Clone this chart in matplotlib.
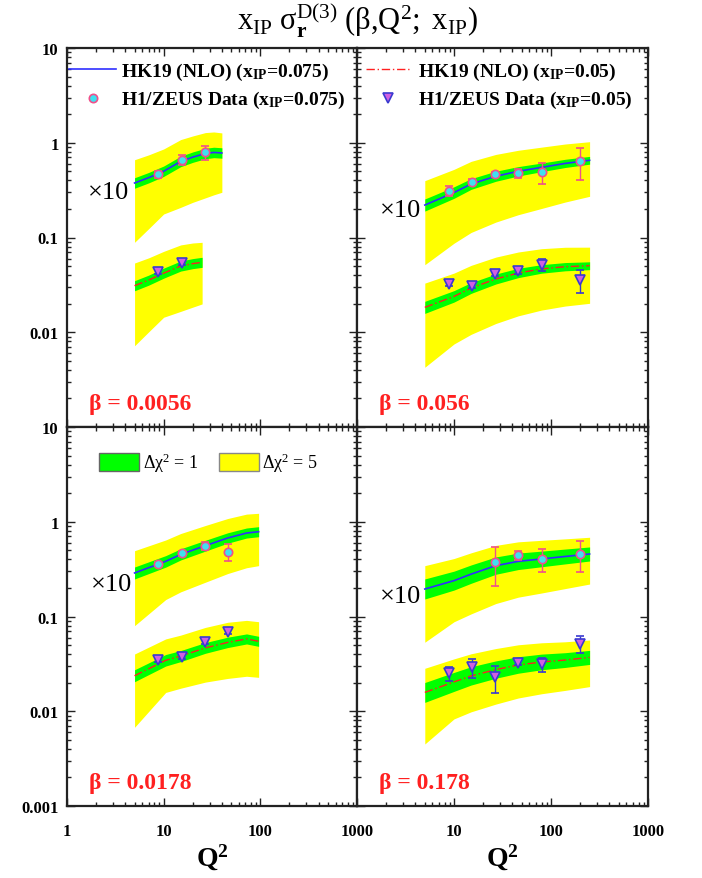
import matplotlib
matplotlib.use("Agg")
import matplotlib.pyplot as plt
from matplotlib.lines import Line2D
from matplotlib.patches import Patch

plt.rcParams['font.family'] = ['Liberation Serif', 'DejaVu Serif']
plt.rcParams['mathtext.fontset'] = 'custom'
plt.rcParams['mathtext.rm'] = 'Liberation Serif'
plt.rcParams['mathtext.it'] = 'Liberation Serif:italic'
plt.rcParams['mathtext.bf'] = 'Liberation Serif:bold'

# ---------------- data ----------------
SCALE_A = 10          # x_IP = 0.075 series is drawn multiplied by 10
BETAS = ['0.0056', '0.056', '0.0178', '0.178']

# beta = 0.0056
q_tl_a = [5, 7, 10, 15, 20, 27, 33, 40]
cen_tl_a = [0.0376, 0.0428, 0.050, 0.0635, 0.0705, 0.077, 0.079, 0.078]
ghi_tl_a = [0.0427, 0.0486, 0.0568, 0.0721, 0.080, 0.0874, 0.0897, 0.0885]
glo_tl_a = [0.0331, 0.0377, 0.0441, 0.0559, 0.0621, 0.0678, 0.0696, 0.0687]
yhi_tl_a = [0.0662, 0.0745, 0.086, 0.108, 0.118, 0.128, 0.130, 0.127]
ylo_tl_a = [0.0089, 0.0124, 0.0177, 0.0208, 0.0235, 0.0262, 0.0282, 0.030]
dq_tl_a = [8.8, 15.3, 26.5]
dv_tl_a = [0.0468, 0.0662, 0.079]
de_tl_a = [0.004, 0.008, 0.014]

q_tl_b = [5, 7, 10, 15, 20, 25]
cen_tl_b = [0.031, 0.0355, 0.042, 0.050, 0.053, 0.0547]
ghi_tl_b = [0.035, 0.0401, 0.0475, 0.0565, 0.0599, 0.0618]
glo_tl_b = [0.0274, 0.0314, 0.0372, 0.0442, 0.0469, 0.0484]
yhi_tl_b = [0.0538, 0.061, 0.0714, 0.0835, 0.0875, 0.089]
ylo_tl_b = [0.0072, 0.0101, 0.0144, 0.0166, 0.0184, 0.0199]
dq_tl_b = [8.8, 15.3]
dv_tl_b = [0.0435, 0.0538]
de_tl_b = [0.002, 0.003]

# beta = 0.056
q_tr_a = [5, 10, 15, 27, 46, 80, 140, 250]
cen_tr_a = [0.022, 0.0298, 0.0367, 0.0443, 0.050, 0.055, 0.0605, 0.0653]
ghi_tr_a = [0.0255, 0.0343, 0.0418, 0.0501, 0.056, 0.0611, 0.0669, 0.0718]
glo_tr_a = [0.0190, 0.0259, 0.0322, 0.0392, 0.0446, 0.0495, 0.0548, 0.0594]
yhi_tr_a = [0.0398, 0.0524, 0.0636, 0.0753, 0.0833, 0.0899, 0.097, 0.1026]
ylo_tr_a = [0.00516, 0.0087, 0.0113, 0.01454, 0.0174, 0.02025, 0.02366, 0.0272]
dq_tr_a = [8.9, 15.3, 26.5, 46, 80, 200]
dv_tr_a = [0.0312, 0.0388, 0.0467, 0.0476, 0.049, 0.064]
de_tr_a = [0.004, 0.0028, 0.003, 0.005, 0.0125, 0.024]

q_tr_b = [5, 10, 15, 27, 46, 80, 140, 250]
cen_tr_b = [0.0183, 0.0239, 0.0293, 0.0365, 0.0422, 0.0466, 0.0492, 0.0504]
ghi_tr_b = [0.0212, 0.0275, 0.0334, 0.0412, 0.0473, 0.0517, 0.0544, 0.0554]
glo_tr_b = [0.0158, 0.0208, 0.0257, 0.0323, 0.0377, 0.0420, 0.0445, 0.0458]
yhi_tr_b = [0.033, 0.0421, 0.0508, 0.0621, 0.0703, 0.0762, 0.0789, 0.0791]
ylo_tr_b = [0.00427, 0.00752, 0.0095, 0.01237, 0.0149, 0.01715, 0.0189, 0.0202]
dq_tr_b = [8.9, 15.3, 26.5, 46, 80, 200]
dv_tr_b = [0.0323, 0.031, 0.0412, 0.044, 0.0517, 0.0356]
de_tr_b = [0.0015, 0.0015, 0.0018, 0.003, 0.0078, 0.0098]

# beta = 0.0178
q_bl_a = [5, 10.5, 15, 27, 46, 72, 96]
cen_bl_a = [0.0288, 0.0382, 0.0452, 0.0559, 0.0674, 0.076, 0.0785]
ghi_bl_a = [0.0333, 0.0439, 0.0518, 0.0637, 0.0765, 0.0859, 0.0887]
glo_bl_a = [0.0249, 0.0332, 0.0395, 0.0490, 0.0594, 0.0673, 0.0695]
yhi_bl_a = [0.0495, 0.0642, 0.0751, 0.0913, 0.1082, 0.1204, 0.1228]
ylo_bl_a = [0.0080, 0.0151, 0.0182, 0.0230, 0.0284, 0.0327, 0.0344]
dq_bl_a = [8.8, 15.3, 26.5, 46]
dv_bl_a = [0.0358, 0.0464, 0.0558, 0.0483]
de_bl_a = [0.002, 0.0025, 0.005, 0.0098]

q_bl_b = [5, 10.5, 15, 27, 46, 72, 96]
cen_bl_b = [0.0237, 0.0345, 0.0382, 0.0466, 0.0533, 0.058, 0.0547]
ghi_bl_b = [0.0274, 0.0397, 0.0437, 0.0531, 0.0605, 0.0655, 0.0618]
glo_bl_b = [0.0205, 0.0300, 0.0334, 0.0409, 0.0470, 0.0513, 0.0484]
yhi_bl_b = [0.0402, 0.058, 0.0636, 0.0767, 0.0869, 0.091, 0.0881]
ylo_bl_b = [0.00677, 0.0158, 0.0175, 0.0203, 0.0222, 0.0234, 0.0228]
dq_bl_b = [8.8, 15.3, 26.5, 46]
dv_bl_b = [0.0348, 0.0377, 0.0542, 0.0692]
de_bl_b = [0.0017, 0.0018, 0.0027, 0.0035]

# beta = 0.178
q_br_a = [5, 10, 15, 27, 46, 80, 140, 250]
cen_br_a = [0.0195, 0.0239, 0.028, 0.0344, 0.0382, 0.0405, 0.043, 0.0457]
ghi_br_a = [0.0249, 0.0301, 0.035, 0.0425, 0.0467, 0.049, 0.0515, 0.0542]
glo_br_a = [0.0153, 0.0190, 0.0224, 0.0279, 0.0313, 0.0335, 0.0359, 0.0385]
yhi_br_a = [0.0344, 0.0409, 0.047, 0.0563, 0.0614, 0.0637, 0.066, 0.0686]
ylo_br_a = [0.00535, 0.0088, 0.01065, 0.0137, 0.016, 0.0177, 0.0197, 0.022]
dq_br_a = [26.5, 46, 80, 200]
dv_br_a = [0.0373, 0.0446, 0.0404, 0.046]
de_br_a = [0.0165, 0.005, 0.011, 0.0165]

q_br_b = [5, 10, 15, 27, 46, 80, 140, 250]
cen_br_b = [0.0158, 0.0204, 0.0236, 0.0275, 0.0308, 0.0331, 0.0347, 0.037]
ghi_br_b = [0.0201, 0.0257, 0.0295, 0.034, 0.0376, 0.0401, 0.0415, 0.0439]
glo_br_b = [0.0124, 0.0162, 0.0189, 0.0223, 0.0252, 0.0274, 0.029, 0.0312]
yhi_br_b = [0.0284, 0.0357, 0.0404, 0.0459, 0.0503, 0.0528, 0.0541, 0.0565]
ylo_br_b = [0.00451, 0.0083, 0.00986, 0.0119, 0.0138, 0.0153, 0.0166, 0.0182]
dq_br_b = [8.9, 15.3, 26.5, 46, 80, 200]
dv_br_b = [0.0251, 0.0291, 0.0228, 0.0323, 0.0315, 0.0513]
de_br_b = [0.0042, 0.0067, 0.0071, 0.0015, 0.0053, 0.0105]

YTICKS = [0.001, 0.01, 0.1, 1, 10]
XTICKS = [1, 10, 100, 1000]

# ---------------- styles ----------------
YELLOW = '#ffff00'
GREEN = '#00ff00'
BLUE = '#2f2fff'
RED = '#ff2020'
CYAN = '#40e0f0'
PINK = '#f0508a'
VIOLET = '#d060e0'
DBLUE = '#3a3ad0'
AXCOL = '#222222'
DASHDOT = (0, (6, 2, 1, 2))

W, H = 702, 879
fig = plt.figure(figsize=(W / 100, H / 100), dpi=100)

L, R, T, B = 67, 648, 49, 807
MX, MY = 357, 428


def frame(x0, y0, x1, y1):
    return [x0 / W, 1 - y1 / H, (x1 - x0) / W, (y1 - y0) / H]


axes = {
    'tl': fig.add_axes(frame(L, T, MX, MY)),
    'tr': fig.add_axes(frame(MX, T, R, MY)),
    'bl': fig.add_axes(frame(L, MY, MX, B)),
    'br': fig.add_axes(frame(MX, MY, R, B)),
}


def draw_series(ax, q, cen, glo, ghi, ylo, yhi, dq, dv, de, scale, kind):
    s = lambda v: [scale * x for x in v]
    ax.fill_between(q, s(ylo), s(yhi), color=YELLOW, lw=0, zorder=1)
    ax.fill_between(q, s(glo), s(ghi), color=GREEN, lw=0, zorder=2)
    if kind == 'a':
        ax.plot(q, s(cen), color=BLUE, lw=1.2, zorder=3)
        ax.errorbar(dq, s(dv), yerr=s(de), fmt='o', ms=6, mfc=CYAN, mec=PINK,
                    mew=1.2, ecolor=PINK, elinewidth=1, capsize=3, capthick=1,
                    zorder=4)
    else:
        ax.plot(q, s(cen), color=RED, lw=1.0, ls=DASHDOT, zorder=3)
        ax.errorbar(dq, s(dv), yerr=s(de), fmt='v', ms=7, mfc=VIOLET, mec=DBLUE,
                    mew=1.2, ecolor=DBLUE, elinewidth=1, capsize=3, capthick=1,
                    zorder=4)


panels = [
    ('tl', (q_tl_a, cen_tl_a, glo_tl_a, ghi_tl_a, ylo_tl_a, yhi_tl_a, dq_tl_a, dv_tl_a, de_tl_a),
           (q_tl_b, cen_tl_b, glo_tl_b, ghi_tl_b, ylo_tl_b, yhi_tl_b, dq_tl_b, dv_tl_b, de_tl_b)),
    ('tr', (q_tr_a, cen_tr_a, glo_tr_a, ghi_tr_a, ylo_tr_a, yhi_tr_a, dq_tr_a, dv_tr_a, de_tr_a),
           (q_tr_b, cen_tr_b, glo_tr_b, ghi_tr_b, ylo_tr_b, yhi_tr_b, dq_tr_b, dv_tr_b, de_tr_b)),
    ('bl', (q_bl_a, cen_bl_a, glo_bl_a, ghi_bl_a, ylo_bl_a, yhi_bl_a, dq_bl_a, dv_bl_a, de_bl_a),
           (q_bl_b, cen_bl_b, glo_bl_b, ghi_bl_b, ylo_bl_b, yhi_bl_b, dq_bl_b, dv_bl_b, de_bl_b)),
    ('br', (q_br_a, cen_br_a, glo_br_a, ghi_br_a, ylo_br_a, yhi_br_a, dq_br_a, dv_br_a, de_br_a),
           (q_br_b, cen_br_b, glo_br_b, ghi_br_b, ylo_br_b, yhi_br_b, dq_br_b, dv_br_b, de_br_b)),
]

for (key, sa, sb), beta in zip(panels, BETAS):
    ax = axes[key]
    draw_series(ax, *sa, SCALE_A, 'a')
    draw_series(ax, *sb, 1, 'b')
    ax.set_xscale('log')
    ax.set_yscale('log')
    ax.set_xlim(1, 1000)
    ax.set_ylim(0.001, 10)
    ax.tick_params(which='both', direction='in', top=True, right=True,
                   color=AXCOL, width=1)
    ax.tick_params(which='major', length=6)
    ax.tick_params(which='minor', length=3)
    for sp in ax.spines.values():
        sp.set_linewidth(1.6)
        sp.set_color(AXCOL)
    ax.set_yticks(YTICKS)
    ax.set_xticks(XTICKS)
    if key == 'tl':
        ax.set_yticklabels(['', '0.01', '0.1', '1', '10'])
    elif key == 'bl':
        ax.set_yticklabels(['0.001', '0.01', '0.1', '1', '10'])
    else:
        ax.set_yticklabels([])
    if key == 'bl':
        ax.set_xticklabels(['1', '10', '100', '1000'])
    elif key == 'br':
        ax.set_xticklabels(['', '10', '100', '1000'])
    else:
        ax.set_xticklabels([])
    for lab in ax.get_xticklabels() + ax.get_yticklabels():
        lab.set_fontweight('bold')
        lab.set_fontsize(12)
    ax.tick_params(axis='y', pad=6)
    ax.tick_params(axis='x', pad=12)
    ax.text(0.075, 0.062, 'β = ' + beta, transform=ax.transAxes, color=RED,
            fontsize=17, fontweight='bold', va='center', ha='left')

# "x10" markers for the scaled series
x10_pos = {'tl': (0.072, 0.62), 'tr': (0.077, 0.573), 'bl': (0.083, 0.586), 'br': (0.077, 0.554)}
for key, (xx, yy) in x10_pos.items():
    axes[key].text(xx, yy, '×' + str(SCALE_A), transform=axes[key].transAxes,
                   fontsize=19, va='center', ha='left', color='black')

# legends
leg_font = dict(family='Liberation Serif', weight='bold', size=14)
h_a = [Line2D([], [], color=BLUE, lw=1.2),
       Line2D([], [], ls='none', marker='o', ms=6, mfc=CYAN, mec=PINK, mew=1.2)]
axes['tl'].legend(h_a, [r'HK19 (NLO) ($\mathbf{x}_{\mathbf{IP}}$=0.075)',
                        r'H1/ZEUS Data ($\mathbf{x}_{\mathbf{IP}}$=0.075)'],
                  loc='upper left', bbox_to_anchor=(-0.034, 0.997), frameon=False,
                  prop=leg_font, handlelength=2.45, handletextpad=0.25,
                  labelspacing=0.38, borderaxespad=0.2)
h_b = [Line2D([], [], color=RED, lw=1.0, ls=DASHDOT),
       Line2D([], [], ls='none', marker='v', ms=7, mfc=VIOLET, mec=DBLUE, mew=1.2)]
axes['tr'].legend(h_b, [r'HK19 (NLO) ($\mathbf{x}_{\mathbf{IP}}$=0.05)',
                        r'H1/ZEUS Data ($\mathbf{x}_{\mathbf{IP}}$=0.05)'],
                  loc='upper left', bbox_to_anchor=(-0.008, 0.997), frameon=False,
                  prop=leg_font, handlelength=2.2, handletextpad=0.45,
                  labelspacing=0.38, borderaxespad=0.2)
h_c = [Patch(facecolor=GREEN, edgecolor='#666666', lw=1),
       Patch(facecolor=YELLOW, edgecolor='#888888', lw=1)]
axes['bl'].legend(h_c, [r'Δχ$^2$ = 1', r'Δχ$^2$ = 5'], ncol=2,
                  loc='upper left', bbox_to_anchor=(0.055, 0.98), frameon=False,
                  prop=dict(family='Liberation Serif', size=13),
                  handlelength=2.2, handleheight=1.1, handletextpad=0.2,
                  columnspacing=1.15)

# title and axis labels
fig.text(357 / W, 1 - 20 / H,
         r'$\mathrm{x}_{\mathrm{IP}}\ \mathrm{σ}_{\mathbf{r}}^{\mathrm{D(3)}}\ '
         r'\mathrm{(β{,}Q}^{2}\mathrm{{;}\ x}_{\mathrm{IP}}\mathrm{)}$',
         ha='center', va='center', fontsize=22)
for xc in (212, 502):
    fig.text(xc / W, 1 - 858 / H, r'$\mathbf{Q}^{\mathbf{2}}$', ha='center',
             va='center', fontsize=20)

fig.savefig('out.png', dpi=100)
